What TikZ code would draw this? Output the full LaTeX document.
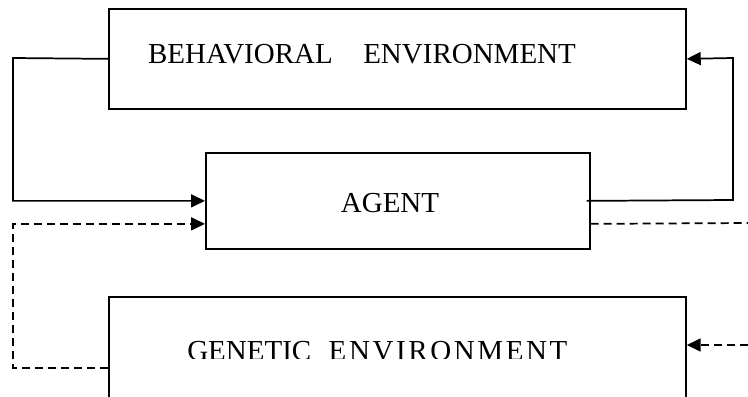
\documentclass[tikz,border=0pt]{standalone}
\usepackage{fontspec}
\setmainfont{Liberation Serif}
\usetikzlibrary{arrows.meta}
\newcommand{\gs}{\hspace{0.09em}}
\begin{document}
\begin{tikzpicture}[x=0.75pt,y=-0.75pt,
  box/.style={draw,line width=1.3pt,rectangle,anchor=north west,inner sep=0pt},
  lbl/.style={inner sep=0pt,font=\fontsize{21.75}{24}\selectfont},
  conn/.style={line width=1.3pt},
  dconn/.style={line width=1.3pt,dash pattern=on 6pt off 3.75pt},
  tip/.style={-{Triangle[length=10.5pt,width=9.75pt]}}]
\clip (0,0) rectangle (748,396);
\useasboundingbox (0,0) rectangle (748,396);
\node[box,minimum width=432.75pt,minimum height=75pt] (beh) at (108,8) {};
\node[box,minimum width=288pt,minimum height=72pt] (agent) at (205,152) {};
\node[box,minimum width=432.75pt,minimum height=80pt] (gen) at (108,296) {};
\node[lbl] (tbeh) at (362,54) {BEHAVIORAL\hspace{1.05em}ENVIRONMENT};
\node[lbl] (tagent) at (390,203) {AGENT};
\begin{scope}
\clip (0,0) rectangle (748,358.5);
\node[lbl,anchor=base west] (tgen) at (187,360) {GENETIC\hspace{0.6em}E\gs N\gs V\gs I\gs R\gs O\gs N\gs M\gs E\gs N\gs T};
\end{scope}
\coordinate (lt) at (13,58);
\coordinate (lb) at (13,368);
\coordinate (rt) at (733,58);
\coordinate (rb) at (733,200);
\coordinate (de) at (748,223);
\coordinate (dg) at (748,345);
\draw[conn,tip] (beh.west) -- (lt) |- (agent.west);
\draw[conn,tip] ([xshift=-3pt]agent.east) -- (rb) -- (rt) -- (beh.east);
\draw[dconn,tip] (lb -| gen.west) -- (lb) |- ([yshift=-17.25pt]agent.west);
\draw[dconn] ([yshift=-17.25pt]agent.east) -- (de);
\draw[dconn,tip] (dg) -- (dg -| gen.east);
\end{tikzpicture}
\end{document}
